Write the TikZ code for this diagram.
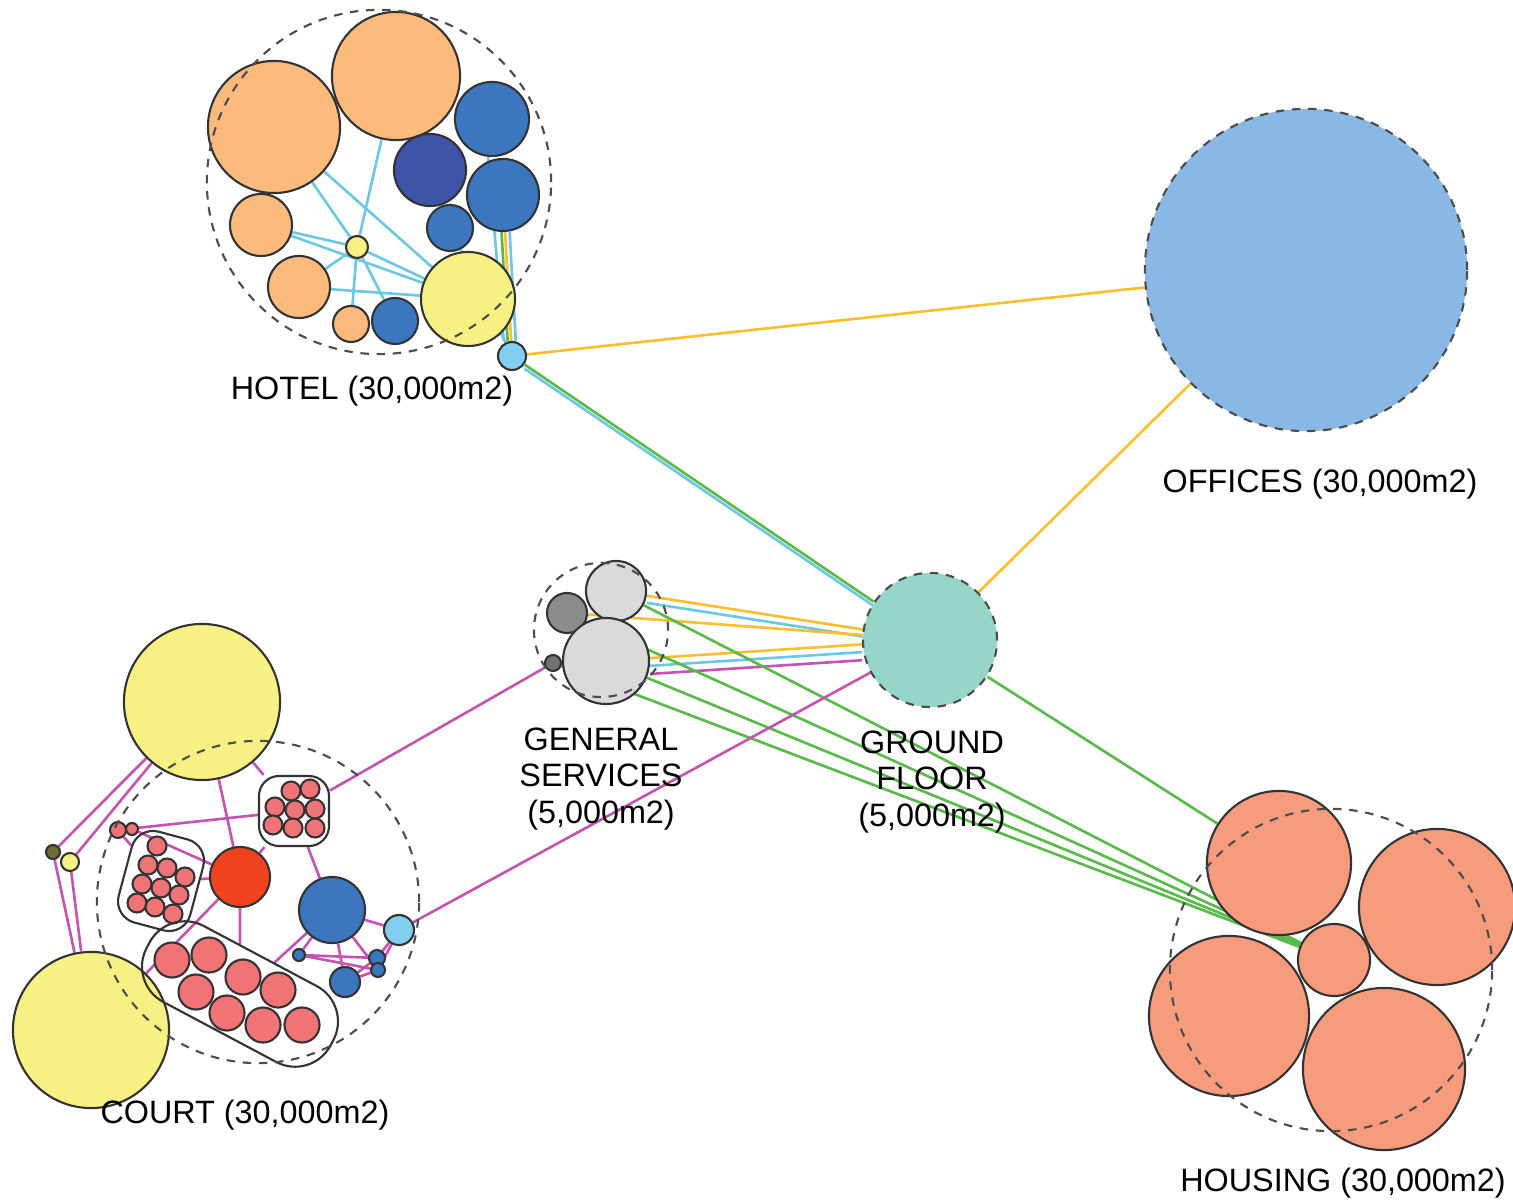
\documentclass[tikz,border=0pt]{standalone}
\usepackage{fontspec}
\setmainfont{Liberation Sans}
\usetikzlibrary{backgrounds}
\definecolor{hotelorange}{RGB}{253,186,125}
\definecolor{roomblue}{RGB}{60,118,190}
\definecolor{roomindigo}{RGB}{62,84,166}
\definecolor{roomyellow}{RGB}{246,241,130}
\definecolor{roomolive}{RGB}{110,110,50}
\definecolor{linkblue}{RGB}{128,206,240}
\definecolor{officeblue}{RGB}{136,184,227}
\definecolor{groundteal}{RGB}{150,214,200}
\definecolor{servlight}{RGB}{218,218,218}
\definecolor{servdark}{RGB}{140,140,140}
\definecolor{courtpink}{RGB}{240,116,118}
\definecolor{courtred}{RGB}{240,66,30}
\definecolor{housesalmon}{RGB}{246,156,125}
\definecolor{wireC}{RGB}{108,200,226}
\definecolor{wireO}{RGB}{253,190,45}
\definecolor{wireG}{RGB}{88,186,72}
\definecolor{wireM}{RGB}{196,84,176}
\tikzset{
    %Define style for rooms
    room/.style={
           circle,
           draw=black!80, line width=0.6pt,
           inner sep=0pt},
    rad/.style={minimum size=#1*0.02cm},
    %Define style for dashed zones
    zone/.style={
           circle,
           draw=black!70, line width=0.6pt,
           dash pattern=on 2.4pt off 2.2pt,
           inner sep=0pt},
    blob/.style={
           draw=black!80, line width=0.6pt,
           inner sep=0pt,
           rounded corners=#1},
    blob/.default=0.2cm,
    % Define wire style
    wire/.style={line width=0.75pt},
    zonelabel/.style={
           font=\fontsize{9.2}{10.3}\selectfont,
           align=center, inner sep=0pt}
}
\begin{document}
\begin{tikzpicture}[x=0.01cm, y=-0.01cm]
 \useasboundingbox (0,0) rectangle (1513,1204);

 %Hotel
 \node[room,fill=hotelorange,rad=66] (hoA) at (274,127) {};
 \node[room,fill=hotelorange,rad=64] (hoB) at (396,76) {};
 \node[room,fill=hotelorange,rad=31] (hoC) at (261,225) {};
 \node[room,fill=hotelorange,rad=31] (hoD) at (299,287) {};
 \node[room,fill=hotelorange,rad=18] (hoE) at (351,324) {};
 \node[room,fill=roomblue,rad=37] (hbA) at (492,119) {};
 \node[room,fill=roomindigo,rad=36] (hbB) at (430,170) {};
 \node[room,fill=roomblue,rad=36] (hbC) at (503,195) {};
 \node[room,fill=roomblue,rad=23] (hbD) at (450,228) {};
 \node[room,fill=roomblue,rad=23] (hbE) at (395,321) {};
 \node[room,fill=roomyellow,rad=47] (hyA) at (468,299) {};
 \node[room,fill=roomyellow,rad=11] (hyB) at (357,247) {};
 \node[room,fill=linkblue,rad=14] (hlink) at (512,356) {};
 \node[zone,rad=172] (hotel) at (379,182) {};
 \node[zonelabel] (hotellabel) at (372,391) {HOTEL (30,000m2)};

 %Offices
 \node[zone,fill=officeblue,rad=161] (office) at (1306,270) {};
 \node[zonelabel] (officelabel) at (1320,484) {OFFICES (30,000m2)};

 %Ground floor
 \node[zone,fill=groundteal,rad=67] (gf) at (930,640) {};
 \node[zonelabel] (gflabel) at (932,782) {GROUND\\FLOOR\\(5,000m2)};

 %General services
 \node[room,fill=servlight,rad=30] (gsA) at (616,591) {};
 \node[room,fill=servdark,rad=20] (gsB) at (567,613) {};
 \node[room,fill=servlight,rad=43] (gsC) at (606,661) {};
 \node[room,fill=black!55,rad=8] (gsD) at (553,663) {};
 \node[zone,rad=67] (gs) at (601,630) {};
 \node[zonelabel] (gslabel) at (601,779) {GENERAL\\SERVICES\\(5,000m2)};

 %Court
 \node[room,fill=roomyellow,rad=78] (cyA) at (202,702) {};
 \node[room,fill=roomyellow,rad=78] (cyB) at (91,1030) {};
 \node[room,fill=roomyellow,rad=9] (cyC) at (70,862) {};
 \node[room,fill=roomolive,rad=7] (cyD) at (53,852) {};
 \node[room,fill=courtpink,rad=8] (csA) at (118,830) {};
 \node[room,fill=courtpink,rad=6] (csB) at (132,829) {};
 \node[room,fill=courtred,rad=30] (cr) at (240,877) {};
 \node[room,fill=roomblue,rad=33] (cb) at (332,910) {};
 \node[room,fill=linkblue,rad=15] (clb) at (399,930) {};
 \node[room,fill=roomblue,rad=6] (cbA) at (299,955) {};
 \node[room,fill=roomblue,rad=8] (cbB) at (377,958) {};
 \node[room,fill=roomblue,rad=7] (cbC) at (378,970) {};
 \node[room,fill=roomblue,rad=15] (cbD) at (345,982) {};
 \foreach \i/\px/\py in {1/291/791,2/310/789,3/275/807,4/295/810,5/315/809,6/273/825,7/293/828,8/315/828}
   \node[room,fill=courtpink,rad=9.5] (ct\i) at (\px,\py) {};
 \foreach \i/\px/\py in {1/157/846,2/148/865,3/167/868,4/185/877,5/142/884,6/161/888,7/179/895,8/137/903,9/155/907,10/173/914}
   \node[room,fill=courtpink,rad=9.5] (cl\i) at (\px,\py) {};
 \foreach \i/\px/\py in {1/172/960,2/209/955,3/243/977,4/196/992,5/278/990,6/227/1013,7/263/1025,8/302/1025}
   \node[room,fill=courtpink,rad=17.5] (cw\i) at (\px,\py) {};
 \node[blob=0.2cm,minimum width=0.7cm,minimum height=0.7cm] (ctop) at (294,811) {};
 \node[blob=0.22cm,minimum width=0.74cm,minimum height=0.94cm,rotate=-15] (cleft) at (161,881) {};
 \node[blob=0.4cm,minimum width=2.08cm,minimum height=0.86cm,rotate=-28] (cbot) at (240,994) {};
 \node[zone,rad=161] (court) at (258,902) {};
 \node[zonelabel] (courtlabel) at (245,1115) {COURT (30,000m2)};

 %Housing
 \node[room,fill=housesalmon,rad=72] (hsA) at (1279,863) {};
 \node[room,fill=housesalmon,rad=78] (hsB) at (1437,907) {};
 \node[room,fill=housesalmon,rad=80] (hsC) at (1229,1016) {};
 \node[room,fill=housesalmon,rad=81] (hsD) at (1384,1069) {};
 \node[room,fill=housesalmon,rad=36] (hsE) at (1334,960) {};
 \node[zone,rad=161] (housing) at (1331,970) {};
 \node[zonelabel] (housinglabel) at (1343,1183) {HOUSING (30,000m2)};

 %%%%% wires behind the rooms
 \begin{scope}[on background layer]
  % hotel
  \draw[wire,wireC] (hyB) -- (hoA);
  \draw[wire,wireC] (hyB) -- (hoB);
  \draw[wire,wireC] (hyB) -- (hoC);
  \draw[wire,wireC] (hyB) -- (hoD);
  \draw[wire,wireC] (hyB) -- (hoE);
  \draw[wire,wireC] (hyB) -- (hbE);
  \draw[wire,wireC] (hyB) -- (hyA);
  \draw[wire,wireC] (hyA) -- (hoA);
  \draw[wire,wireC] (hyA) -- (hoC);
  \draw[wire,wireC] (hyA) -- (hoD);
  \draw[wire,wireC,transform canvas={xshift=-2pt}] (hbA) -- (hlink);
  \draw[wire,wireG,transform canvas={xshift=-1pt}] (hbC) -- (hlink);
  \draw[wire,wireO] (hbC) -- (hlink);
  \draw[wire,wireC,transform canvas={xshift=1.3pt}] (hbC) -- (hlink);
  \draw[wire,wireC] (hbD) -- (hlink);
  \draw[wire,wireO] (hlink) -- (office);
  \draw[wire,wireG] (hlink) -- (gf);
  \draw[wire,wireC,transform canvas={yshift=-1.2pt}] (hlink) -- (gf);
  % ground floor
  \draw[wire,wireO] (gf) -- (office);
  \draw[wire,wireG] (gf) -- (hsA);
  % general services
  \draw[wire,wireO] (gsA) -- (gf);
  \draw[wire,wireC,transform canvas={yshift=-2pt}] (gsA) -- (gf);
  \draw[wire,wireO] (gsB) -- (gf);
  \draw[wire,wireO] (gsC) -- (gf);
  \draw[wire,wireC,transform canvas={yshift=-2.2pt}] (gsC) -- (gf);
  \draw[wire,wireM,transform canvas={yshift=-4.5pt}] (gsC) -- (gf);
  \draw[wire,wireG] (gsA) -- (hsE);
  \draw[wire,wireG] (gsB) -- (hsE);
  \draw[wire,wireG] (gsC) -- (hsE);
  \draw[wire,wireG] (gsD) -- (hsE);
  % court
  \draw[wire,wireM] (cyA) -- (cyD);
  \draw[wire,wireM] (cyA) -- (cyC);
  \draw[wire,wireM] (cyD) -- (cyB);
  \draw[wire,wireM] (cyC) -- (cyB);
  \draw[wire,wireM] (csA) -- (ctop);
  \draw[wire,wireM] (csA) -- (cleft);
  \draw[wire,wireM] (csB) -- (cr);
  \draw[wire,wireM] (cyA) -- (cr);
  \draw[wire,wireM] (cyA) -- (ctop);
  \draw[wire,wireM] (cr) -- (ctop);
  \draw[wire,wireM] (cr) -- (cleft);
  \draw[wire,wireM] (cr) -- (cbot);
  \draw[wire,wireM] (cr) -- (cyB);
  \draw[wire,wireM] (ctop) -- (cb);
  \draw[wire,wireM] (cbot) -- (cb);
  \draw[wire,wireM] (cb) -- (clb);
  \draw[wire,wireM] (cb) -- (cbA);
  \draw[wire,wireM] (cb) -- (cbC);
  \draw[wire,wireM] (cb) -- (cbD);
  \draw[wire,wireM] (cbA) -- (cbB);
  \draw[wire,wireM] (cbA) -- (cbC);
  \draw[wire,wireM] (cbD) -- (cbB);
  \draw[wire,wireM] (cbD) -- (cbC);
  \draw[wire,wireM] (clb) -- (cbB);
  \draw[wire,wireM] (clb) -- (cbC);
  \draw[wire,wireM] (clb) -- (gf);
  \draw[wire,wireM] (ctop) -- (gsD);
 \end{scope}
\end{tikzpicture}
\end{document}
